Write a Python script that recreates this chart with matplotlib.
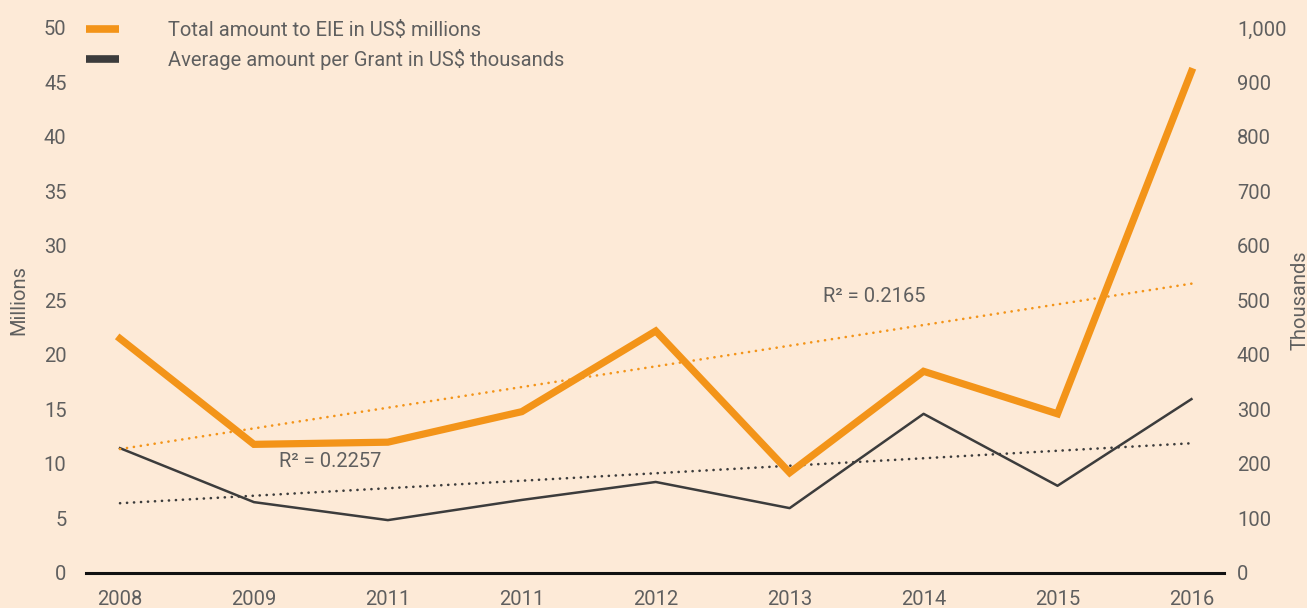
import matplotlib
matplotlib.use('Agg')
import matplotlib.pyplot as plt
import numpy as np

# 数据
years = ['2008', '2009', '2011', '2011', '2012', '2013', '2014', '2015', '2016']
total_millions = [21.5, 11.8, 12.0, 14.8, 22.2, 9.2, 18.5, 14.6, 46.0]
avg_thousands = [229, 130, 97, 134, 167, 119, 292, 160, 319]
r2_total = 'R² = 0.2165'
r2_avg = 'R² = 0.2257'

bg = '#FDEAD7'
orange = '#F39419'
dark = '#3C3C3C'
txt = '#5F5F5F'

plt.rcParams['font.family'] = ['Roboto', 'DejaVu Sans']
fs = 14.5

fig = plt.figure(figsize=(13.07, 6.08), dpi=100, facecolor=bg)
ax = fig.add_axes([0.0658, 0.0576, 0.871, 0.8964], facecolor=bg)
ax2 = ax.twinx()

x = np.arange(len(years))

# 趋势线（线性拟合）
k1, b1 = np.polyfit(x, total_millions, 1)
k2, b2 = np.polyfit(x, avg_thousands, 1)
ax.plot(x, k1 * x + b1, color=orange, linestyle=(0, (0.05, 2.6)), linewidth=1.9,
        dash_capstyle='round', zorder=2)
ax2.plot(x, k2 * x + b2, color=dark, linestyle=(0, (0.05, 2.6)), linewidth=1.9,
         dash_capstyle='round', zorder=2)

ax2.plot(x, avg_thousands, color=dark, linewidth=1.8, zorder=3)
ax.plot(x, total_millions, color=orange, linewidth=5.2, solid_joinstyle='miter', zorder=4)
ax.set_zorder(ax2.get_zorder() + 1)
ax.patch.set_visible(False)
ax2.patch.set_facecolor(bg)

ax.set_xlim(-0.254, 8.246)
ax.set_ylim(0, 50)
ax2.set_ylim(0, 1000)
ax.set_xticks(x)
ax.set_xticklabels(years)
ax.set_yticks(np.arange(0, 51, 5))
ax2.set_yticks(np.arange(0, 1001, 100))
ax2.set_yticklabels(['{:,}'.format(v) for v in range(0, 1001, 100)])

for a in (ax, ax2):
    for s in a.spines.values():
        s.set_visible(False)
ax.spines['bottom'].set_visible(True)
ax.spines['bottom'].set_linewidth(2.2)
ax.spines['bottom'].set_color('#111111')

ax.tick_params(axis='y', length=0, pad=14, colors=txt, labelsize=fs)
ax.tick_params(axis='x', length=0, pad=12, colors=txt, labelsize=fs)
ax2.tick_params(axis='y', length=0, pad=9, colors=txt, labelsize=fs)

ax.set_ylabel('Millions', color=txt, fontsize=fs, labelpad=11)
ax2.set_ylabel('Thousands', color=txt, fontsize=fs, labelpad=3)

ax.text(1.19, 10.2, r2_avg, color=txt, fontsize=fs, va='center', ha='left')
ax.text(5.25, 25.4, r2_total, color=txt, fontsize=fs, va='center', ha='left')

# 图例
h1, = ax.plot([], [], color=orange, linewidth=5.5, solid_capstyle='butt')
h2, = ax.plot([], [], color=dark, linewidth=5.5, solid_capstyle='butt')
leg = ax.legend([h1, h2], ['Total amount to EIE in US$ millions', 'Average amount per Grant in US$ thousands'],
                loc='upper left', bbox_to_anchor=(0.0, 1.013), frameon=False, borderpad=0,
                borderaxespad=0, handlelength=1.65, handletextpad=2.4, labelspacing=0.45,
                fontsize=fs)
for t in leg.get_texts():
    t.set_color(txt)

fig.savefig('out.png', dpi=100, facecolor=bg)
